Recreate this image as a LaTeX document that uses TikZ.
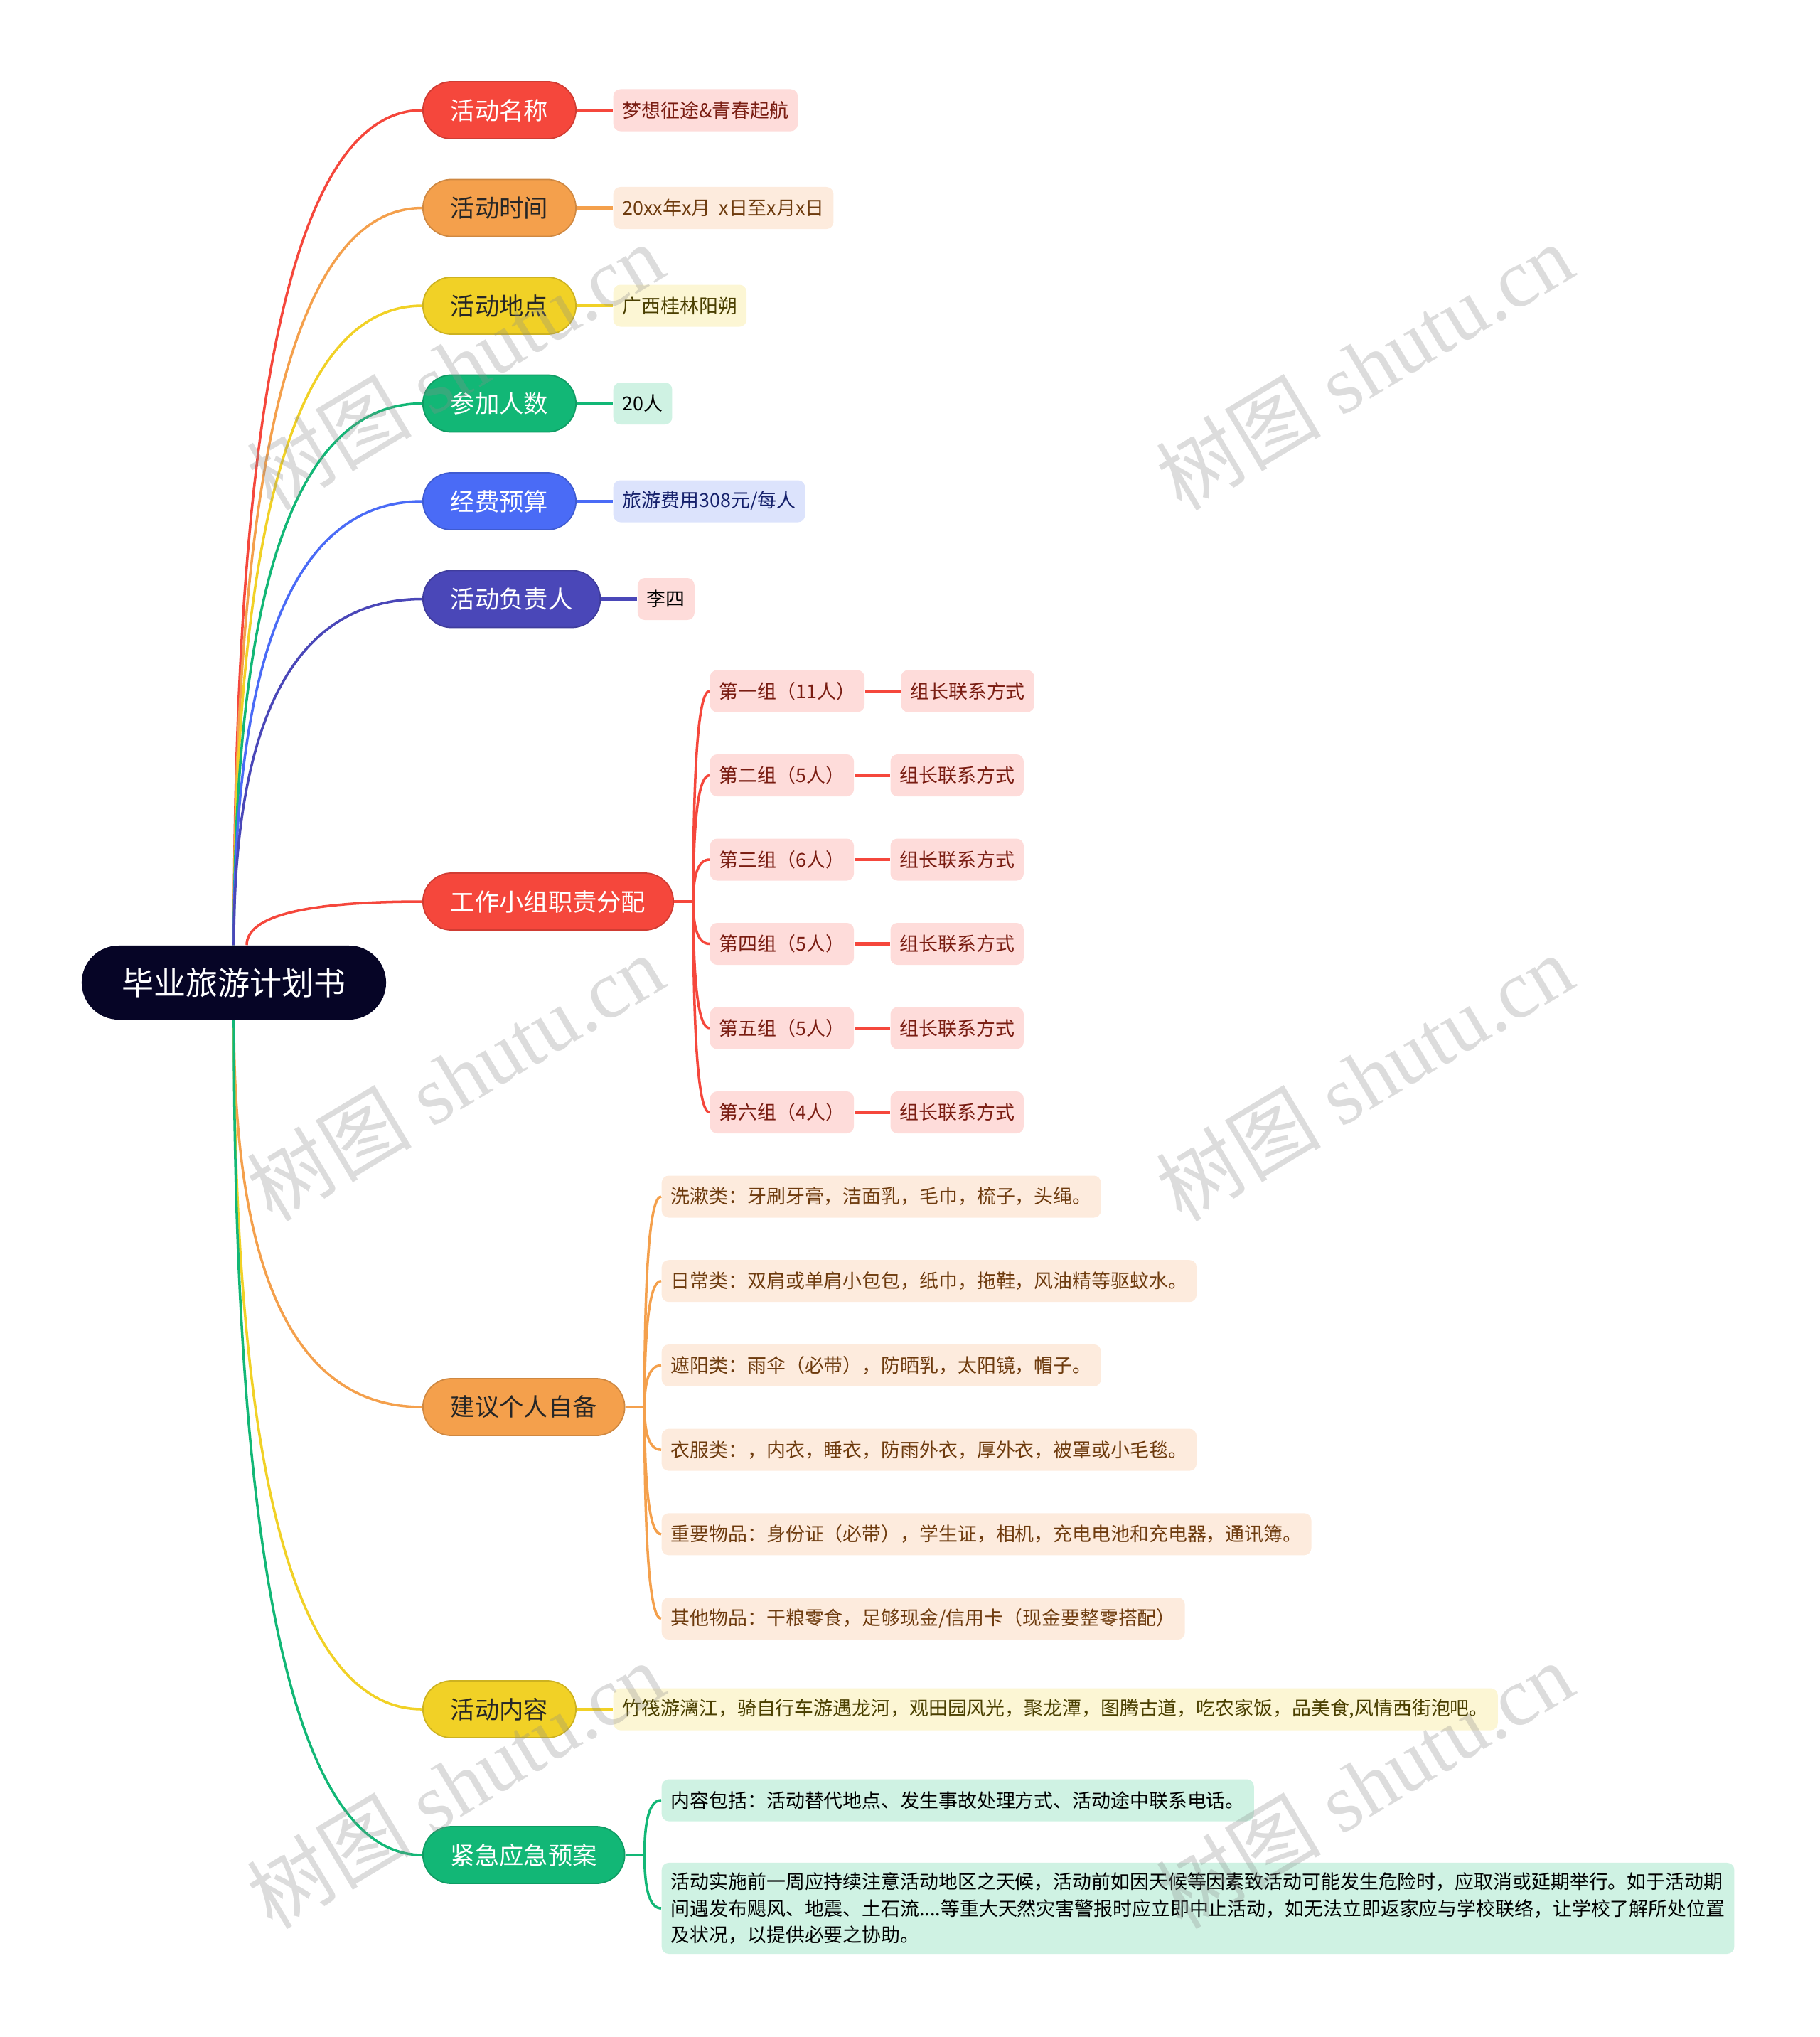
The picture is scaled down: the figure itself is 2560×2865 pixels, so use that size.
\documentclass[tikz,border=0pt]{standalone}
\usepackage{fontspec}
\usepackage{tikz}
\usetikzlibrary{positioning,calc}
\newfontfamily\cjk{Noto Sans CJK SC}
\newfontfamily\wmserif{Liberation Serif}
\definecolor{rootc}{HTML}{060526}
\definecolor{redc}{HTML}{F5473C}
\definecolor{orgc}{HTML}{F4A04C}
\definecolor{ylwc}{HTML}{F1D126}
\definecolor{grnc}{HTML}{12B776}
\definecolor{bluc}{HTML}{4A6BF6}
\definecolor{indc}{HTML}{4A47B8}
\definecolor{redl}{HTML}{FEDCDA}
\definecolor{orgl}{HTML}{FDEBDD}
\definecolor{ylwl}{HTML}{FCF6D4}
\definecolor{grnl}{HTML}{CFF2E3}
\definecolor{blul}{HTML}{DCE3FC}
\definecolor{redt}{HTML}{7A1D12}
\definecolor{orgt}{HTML}{6E3B0E}
\definecolor{ylwt}{HTML}{4A3F00}
\definecolor{blut}{HTML}{15206B}
\definecolor{darkt}{HTML}{262626}
\tikzstyle{rootbox}=[rounded corners=0.52cm,fill=rootc,text=white,minimum height=1.04cm,inner xsep=0.565cm,font=\cjk\fontsize{12.8pt}{15pt}\selectfont]
\tikzstyle{mainbox}=[rounded corners=0.4cm,minimum height=0.8cm,inner xsep=0.39cm,anchor=west,line width=0.5pt,font=\cjk\fontsize{9.75pt}{12pt}\selectfont]
\tikzstyle{leafbox}=[rounded corners=0.1cm,minimum height=0.59cm,inner xsep=0.13cm,inner ysep=0.05cm,anchor=west,font=\cjk\fontsize{7.65pt}{10.6pt}\selectfont]
\tikzstyle{mred}=[mainbox,fill=redc,draw=redc!85!black,text=white]
\tikzstyle{morg}=[mainbox,fill=orgc,draw=orgc!85!black,text=darkt]
\tikzstyle{mylw}=[mainbox,fill=ylwc,draw=ylwc!85!black,text=darkt]
\tikzstyle{mgrn}=[mainbox,fill=grnc,draw=grnc!85!black,text=white]
\tikzstyle{mblu}=[mainbox,fill=bluc,draw=bluc!85!black,text=white]
\tikzstyle{mind}=[mainbox,fill=indc,draw=indc!85!black,text=white]
\tikzstyle{lred}=[leafbox,fill=redl,text=redt]
\tikzstyle{lorg}=[leafbox,fill=orgl,text=orgt]
\tikzstyle{lylw}=[leafbox,fill=ylwl,text=ylwt]
\tikzstyle{lgrn}=[leafbox,fill=grnl,text=black]
\tikzstyle{lblu}=[leafbox,fill=blul,text=blut]
\tikzstyle{conn}=[line width=1.3pt]
\tikzstyle{branch}=[line width=1pt,to path={.. controls ($(\tikztostart)!0.667!(\tikztostart|-\tikztotarget)$) and ($(\tikztotarget)!0.667!(\tikztostart|-\tikztotarget)$) .. (\tikztotarget)}]
\tikzstyle{wmark}=[text=black!45,text opacity=0.3,rotate=31,font=\wmserif\fontsize{33pt}{38pt}\selectfont]

\begin{document}
\begin{tikzpicture}[x=0.01cm,y=-0.01cm]
\useasboundingbox (0,0) rectangle (2560,2865);
\node[rootbox] (root) at (329,1382) {毕业旅游计划书};
% main branches
\node[mred] (n1) at (594,155) {活动名称};
\node[morg] (n2) at (594,292.5) {活动时间};
\node[mylw] (n3) at (594,430) {活动地点};
\node[mgrn] (n4) at (594,567.5) {参加人数};
\node[mblu] (n5) at (594,705) {经费预算};
\node[mind] (n6) at (594,842.5) {活动负责人};
\node[mred] (n7) at (594,1268) {工作小组职责分配};
\node[morg] (n8) at (594,1979) {建议个人自备};
\node[mylw] (n9) at (594,2404) {活动内容};
\node[mgrn] (n10) at (594,2609) {紧急应急预案};
% leaves
\node[lred,right=0.51cm of n1] (l1) {梦想征途\&青春起航};
\node[lorg,right=0.51cm of n2] (l2) {20xx年x月\ \ x日至x月x日};
\node[lylw,right=0.51cm of n3] (l3) {广西桂林阳朔};
\node[lgrn,right=0.51cm of n4] (l4) {20人};
\node[lblu,right=0.51cm of n5] (l5) {旅游费用308元/每人};
\node[leafbox,fill=redl,text=black,right=0.51cm of n6] (l6) {李四};
\node[lylw,right=0.51cm of n9] (l9) {竹筏游漓江，骑自行车游遇龙河，观田园风光，聚龙潭，图腾古道，吃农家饭，品美食,风情西街泡吧。};
% groups
\node[lred] (g1) at (998,972) {第一组（11人）};
\node[lred] (g2) at (998,1090.5) {第二组（5人）};
\node[lred] (g3) at (998,1209) {第三组（6人）};
\node[lred] (g4) at (998,1327.5) {第四组（5人）};
\node[lred] (g5) at (998,1446) {第五组（5人）};
\node[lred] (g6) at (998,1564.5) {第六组（4人）};
\node[lred,right=0.5cm of g1] (c1) {组长联系方式};
\node[lred,right=0.5cm of g2] (c2) {组长联系方式};
\node[lred,right=0.5cm of g3] (c3) {组长联系方式};
\node[lred,right=0.5cm of g4] (c4) {组长联系方式};
\node[lred,right=0.5cm of g5] (c5) {组长联系方式};
\node[lred,right=0.5cm of g6] (c6) {组长联系方式};
% items
\node[lorg] (i1) at (930,1683) {洗漱类：牙刷牙膏，洁面乳，毛巾，梳子，头绳。};
\node[lorg] (i2) at (930,1801.7) {日常类：双肩或单肩小包包，纸巾，拖鞋，风油精等驱蚊水。};
\node[lorg] (i3) at (930,1920.4) {遮阳类：雨伞（必带），防晒乳，太阳镜，帽子。};
\node[lorg] (i4) at (930,2039.1) {衣服类：，内衣，睡衣，防雨外衣，厚外衣，被罩或小毛毯。};
\node[lorg] (i5) at (930,2157.8) {重要物品：身份证（必带），学生证，相机，充电电池和充电器，通讯簿。};
\node[lorg] (i6) at (930,2276.5) {其他物品：干粮零食，足够现金/信用卡（现金要整零搭配）};
% emergency
\node[lgrn] (e1) at (930,2532) {内容包括：活动替代地点、发生事故处理方式、活动途中联系电话。};
\node[lgrn,align=left,minimum height=1.28cm] (e2) at (930,2684) {活动实施前一周应持续注意活动地区之天候，活动前如因天候等因素致活动可能发生危险时，应取消或延期举行。如于活动期\\间遇发布飓风、地震、土石流....等重大天然灾害警报时应立即中止活动，如无法立即返家应与学校联络，让学校了解所处位置\\及状况，以提供必要之协助。};
% connectors
\coordinate (rt) at (root.north); \coordinate (rb) at (root.south); \coordinate (rt7) at ($(root.north)+(18,0)$);
\draw[branch,redc](rt) to (n1.west);\draw[branch,orgc](rt) to (n2.west);\draw[branch,ylwc](rt) to (n3.west);
\draw[branch,grnc](rt) to (n4.west);\draw[branch,bluc](rt) to (n5.west);\draw[branch,indc](rt) to (n6.west);
\draw[branch,redc](rt7) to (n7.west);
\draw[branch,orgc](rb) to (n8.west);\draw[branch,ylwc](rb) to (n9.west);\draw[branch,grnc](rb) to (n10.west);
\draw[conn,redc](n1.east)--(l1.west);\draw[conn,orgc](n2.east)--(l2.west);\draw[conn,ylwc](n3.east)--(l3.west);
\draw[conn,grnc](n4.east)--(l4.west);\draw[conn,bluc](n5.east)--(l5.west);\draw[conn,indc](n6.east)--(l6.west);
\draw[conn,ylwc](n9.east)--(l9.west);
\coordinate (j7) at ($(n7.east)+(27,0)$); \coordinate (j8) at ($(n8.east)+(27,0)$); \coordinate (j10) at ($(n10.east)+(27,0)$);
\draw[conn,redc](n7.east)--(j7);\draw[conn,orgc](n8.east)--(j8);\draw[conn,grnc](n10.east)--(j10);
\draw[branch,redc](j7) to (g1.west);\draw[branch,redc](j7) to (g2.west);\draw[branch,redc](j7) to (g3.west);
\draw[branch,redc](j7) to (g4.west);\draw[branch,redc](j7) to (g5.west);\draw[branch,redc](j7) to (g6.west);
\draw[conn,redc](g1.east)--(c1.west);\draw[conn,redc](g2.east)--(c2.west);\draw[conn,redc](g3.east)--(c3.west);
\draw[conn,redc](g4.east)--(c4.west);\draw[conn,redc](g5.east)--(c5.west);\draw[conn,redc](g6.east)--(c6.west);
\draw[branch,orgc](j8) to (i1.west);\draw[branch,orgc](j8) to (i2.west);\draw[branch,orgc](j8) to (i3.west);
\draw[branch,orgc](j8) to (i4.west);\draw[branch,orgc](j8) to (i5.west);\draw[branch,orgc](j8) to (i6.west);
\draw[branch,grnc](j10) to (e1.west);\draw[branch,grnc](j10) to (e2.west);
% watermarks
\node[wmark] (wm1) at (640,515) {{\cjk 树图} shutu.cn};
\node[wmark] (wm2) at (1919,515) {{\cjk 树图} shutu.cn};
\node[wmark] (wm3) at (640,1515) {{\cjk 树图} shutu.cn};
\node[wmark] (wm4) at (1919,1515) {{\cjk 树图} shutu.cn};
\node[wmark] (wm5) at (640,2510) {{\cjk 树图} shutu.cn};
\node[wmark] (wm6) at (1919,2510) {{\cjk 树图} shutu.cn};
\end{tikzpicture}
\end{document}
